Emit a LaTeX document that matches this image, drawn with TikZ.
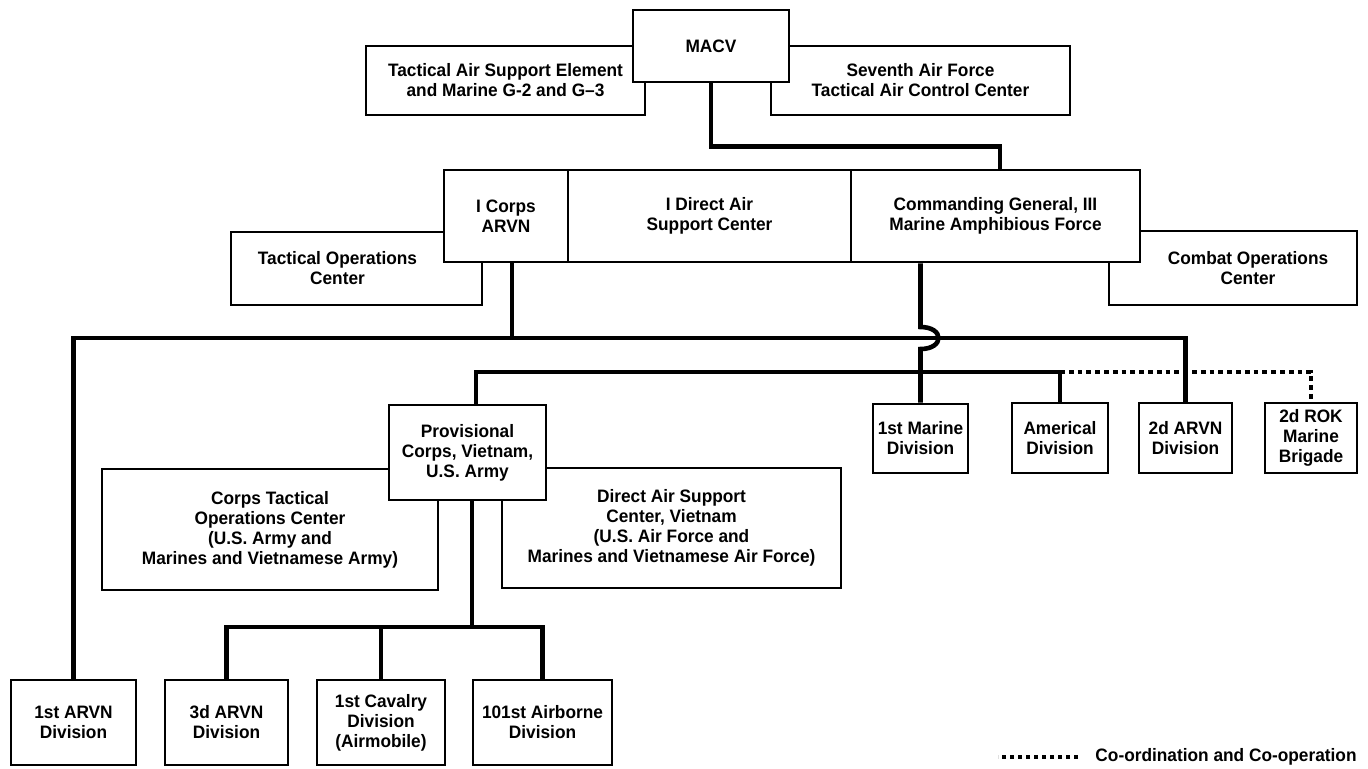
\documentclass[tikz,border=0pt]{standalone}
\usepackage{fontspec}
\setmainfont{Liberation Sans}[FakeStretch=0.96]
\usetikzlibrary{calc,positioning}
\newcommand{\orgfont}{\fontsize{9}{10}\selectfont\bfseries}
\tikzset{
  unit/.style={rectangle,draw=black,fill=white,line width=1.3pt,inner sep=1pt,
    align=center,font=\orgfont},
  unittext/.style={align=center,font=\orgfont,inner sep=0pt},
  link/.style={line width=2.3pt},
  coop/.style={line width=2.4pt,dash pattern=on 2.4pt off 2pt},
  legend/.style={inner sep=0pt,font=\orgfont}
}
\begin{document}
\begin{tikzpicture}[x=0.5pt,y=-0.5pt]
\useasboundingbox (0,0) rectangle (1368,768);

% top: MACV and its staff
\node[unit,minimum width=139.5pt,minimum height=34.5pt] (tase) at (505.5,80.5) {Tactical Air Support Element\\and Marine G-2 and G--3};
\node[unit,minimum width=149.5pt,minimum height=34.5pt] (seventh) at (920.5,80.5) {Seventh Air Force\\Tactical Air Control Center};
\node[unit,minimum width=78pt,minimum height=36pt] (macv) at (711,46) {MACV};

% I Corps row
\node[unit,minimum width=125.5pt,minimum height=36.5pt,
  label={[unittext,xshift=-9.5pt]center:Tactical Operations\\Center}] (toc) at (356.5,268.5) {};
\node[unit,minimum width=124pt,minimum height=37pt,
  label={[unittext,xshift=7.5pt]center:Combat Operations\\Center}] (coc) at (1233,268) {};
\node[unit,minimum width=62pt,minimum height=46pt] (icorps) at (506,216) {I Corps\\ARVN};
\node[unit,minimum width=141.5pt,minimum height=46pt,right=-1.3pt of icorps] (idasc) {I Direct Air\\Support Center};
\node[unit,minimum width=144.5pt,minimum height=46pt,right=-1.3pt of idasc] (cg) {Commanding General, III\\Marine Amphibious Force};

% provisional corps
\node[unit,minimum width=168pt,minimum height=60.5pt] (ctoc) at (270,529.5) {Corps Tactical\\Operations Center\\(U.S. Army and\\Marines and Vietnamese Army)};
\node[unit,minimum width=169.5pt,minimum height=60pt] (dascv) at (671.5,528) {Direct Air Support\\Center, Vietnam\\(U.S. Air Force and\\Marines and Vietnamese Air Force)};
\node[unit,minimum width=78.5pt,minimum height=47.5pt] (prov) at (467.5,452.5) {Provisional\\Corps, Vietnam,\\U.S. Army};

% divisions
\node[unit,minimum width=47.5pt,minimum height=34.5pt] (mar1) at (920.5,438.5) {1st Marine\\Division};
\node[unit,minimum width=48pt,minimum height=35pt] (amer) at (1060,438) {Americal\\Division};
\node[unit,minimum width=46.5pt,minimum height=35pt] (arvn2) at (1185.5,438) {2d ARVN\\Division};
\node[unit,minimum width=46pt,minimum height=35pt] (rok) at (1311,438) {2d ROK\\Marine\\Brigade};

\node[unit,minimum width=62.5pt,minimum height=42.5pt] (arvn1) at (73.5,722.5) {1st ARVN\\Division};
\node[unit,minimum width=61.5pt,minimum height=42.5pt] (arvn3) at (226.5,722.5) {3d ARVN\\Division};
\node[unit,minimum width=64pt,minimum height=42.5pt] (cav) at (381,722.5) {1st Cavalry\\Division\\(Airmobile)};
\node[unit,minimum width=69.5pt,minimum height=42.5pt] (abn) at (542.5,722.5) {101st Airborne\\Division};

% bus lines
\coordinate (busA) at (0,338);
\coordinate (busB) at (0,372);
\coordinate (busC) at (0,627);

\draw[coop] (amer.north |- busB) -| (rok.north);

\draw[link] (macv.south) -- ++(0,63) -| ($(cg.north)+(4.5,0)$);
\draw[link] ($(icorps.south)+(6,0)$) -- ($(icorps.south |- busA)+(6,0)$);
\draw[link] (arvn1.north) |- (arvn2.north |- busA) -- (arvn2.north);
\draw[link] (mar1.north |- cg.south) -- ($(mar1.north |- busA)+(0,-11)$)
  .. controls +(24,0) and +(24,0) .. ($(mar1.north |- busA)+(0,11)$) -- (mar1.north);
\draw[link] ($(prov.north)+(8.5,0)$) |- (amer.north |- busB) -- (amer.north);
\draw[link] ($(prov.south)+(4.5,0)$) -- ($(prov.south |- busC)+(4.5,0)$);
\draw[link] (arvn3.north) |- (abn.north |- busC) -- (abn.north);
\draw[link] (cav.north) -- (cav.north |- busC);

% legend
\node[legend] (legtext) at (1226,757) {Co-ordination and Co-operation};
\draw[coop,line width=2pt,dash pattern=on 2pt off 2pt] ($(legtext.west)+(-17,0)$) -- ++(-80,0);
\end{tikzpicture}
\end{document}
